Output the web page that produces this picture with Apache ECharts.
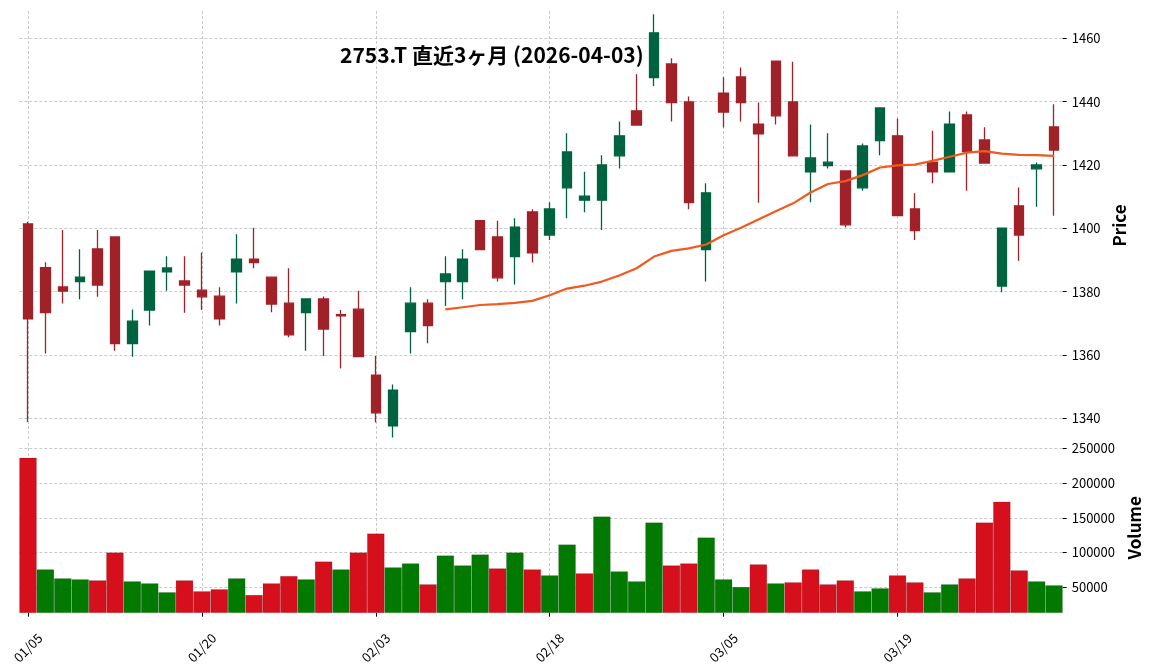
<!DOCTYPE html>
<html><head><meta charset="utf-8">
<script src="https://cdn.jsdelivr.net/npm/echarts@6/dist/echarts.min.js"></script>
<style>html,body{margin:0;padding:0;background:#fff}#c{width:1152px;height:670px}</style>
</head><body><div id="c"></div>
<script>
const dates = ['01/05','01/06','01/07','01/08','01/09','01/13','01/14','01/15','01/16','01/19',
  '01/20','01/21','01/22','01/23','01/26','01/27','01/28','01/29','01/30','02/02',
  '02/03','02/04','02/05','02/06','02/09','02/10','02/12','02/13','02/16','02/17',
  '02/18','02/19','02/20','02/24','02/25','02/26','02/27','03/02','03/03','03/04',
  '03/05','03/06','03/09','03/10','03/11','03/12','03/13','03/16','03/17','03/18',
  '03/19','03/23','03/24','03/25','03/26','03/27','03/30','03/31','04/01','04/02'];
const opens = [1401.4,1387.6,1381.5,1383.2,1393.5,1397.3,1363.6,1374.2,1386.3,1383.4,
  1380.5,1378.6,1386.3,1390.3,1384.6,1376.4,1373.4,1377.7,1372.8,1374.5,
  1353.7,1337.7,1367.4,1376.4,1383.2,1383.2,1402.4,1397.3,1391.1,1405.2,
  1397.9,1412.8,1408.9,1408.9,1422.9,1437.1,1447.6,1451.9,1439.9,1393.3,
  1442.7,1447.8,1432.9,1452.8,1439.9,1417.8,1419.8,1418.1,1412.8,1427.7,
  1429.2,1406.1,1420.9,1417.8,1435.8,1427.9,1381.8,1407.1,1418.8,1432.0];
const closes = [1371.4,1373.4,1380.2,1384.6,1382.1,1363.6,1370.7,1386.5,1387.5,1382.1,
  1378.4,1371.4,1390.3,1389.2,1376.1,1366.4,1377.7,1368.2,1372.4,1359.5,
  1341.8,1348.9,1376.4,1369.3,1385.6,1390.3,1393.3,1384.4,1400.4,1392.3,
  1406.1,1424.1,1410.2,1420.0,1429.2,1432.6,1461.7,1439.7,1408.1,1411.2,
  1436.7,1439.7,1429.8,1435.5,1422.9,1422.2,1420.9,1401.1,1426.0,1438.0,
  1404.0,1399.3,1417.8,1432.9,1424.2,1420.6,1400.1,1397.9,1420.0,1424.7];
const lows = [1338.9,1360.5,1376.3,1377.6,1378.4,1361.4,1359.5,1369.3,1380.3,1373.4,
  1374.2,1369.3,1376.3,1387.4,1373.5,1365.6,1361.4,1359.7,1355.8,1359.5,
  1338.7,1334.0,1360.5,1363.7,1375.5,1377.6,1393.3,1383.2,1382.3,1389.2,
  1396.3,1403.2,1405.1,1399.5,1418.9,1432.6,1444.9,1433.7,1406.0,1383.2,
  1431.8,1433.7,1408.1,1432.8,1422.9,1408.2,1418.9,1400.3,1411.9,1423.1,
  1404.0,1396.3,1414.2,1417.8,1411.9,1420.6,1379.8,1389.8,1406.8,1404.0];
const highs = [1402.1,1389.3,1399.5,1393.4,1399.5,1397.3,1374.4,1386.5,1391.2,1391.2,
  1392.4,1381.4,1398.1,1400.2,1384.6,1387.4,1377.7,1378.5,1374.2,1380.3,
  1359.7,1350.7,1381.4,1377.6,1391.2,1393.4,1402.4,1402.4,1403.2,1406.0,
  1408.2,1430.0,1417.9,1423.1,1433.7,1448.6,1467.6,1453.7,1441.6,1414.2,
  1447.7,1450.8,1439.7,1452.8,1452.6,1432.8,1430.0,1418.1,1426.8,1438.0,
  1434.7,1411.1,1430.8,1436.9,1436.9,1431.9,1400.1,1412.9,1420.8,1439.2];
const volumes = [236200,75800,62900,61500,60000,100100,58600,55700,42900,60000,
  44300,47200,62900,39000,55700,66200,61500,87200,75800,100100,
  127300,78700,84400,54300,95800,81500,97300,77200,100100,75800,
  67200,111600,70100,151700,72900,58600,143100,81500,84400,121600,
  61500,50500,83000,55700,57200,75800,54300,60000,44300,48600,
  67200,57200,42900,54300,62900,143100,173200,74400,58600,52900];
const ma25 = [null,null,null,null,null,null,null,null,null,null,
  null,null,null,null,null,null,null,null,null,null,
  null,null,null,null,1374.4,1375.1,1375.8,1376.1,1376.5,1377.1,
  1378.9,1381.0,1381.9,1383.2,1385.1,1387.4,1391.1,1392.9,1393.7,1394.9,
  1397.8,1400.2,1402.8,1405.4,1407.9,1411.3,1414.0,1414.9,1416.8,1419.2,
  1419.9,1420.1,1421.3,1422.6,1423.9,1424.4,1423.6,1423.2,1423.1,1422.9];
const priceTicks = [1340,1360,1380,1400,1420,1440,1460];
const volumeTicks = [50000,100000,150000,200000,250000];

const FONT = "'Noto Sans CJK JP','Noto Sans',sans-serif";
const UP = '#006340', DOWN = '#A02128';
const VUP = '#027a02', VDOWN = '#d50f1b';
const gridLine = {color:'#bdbdbd', width:0.8, type:[3,2]};
const L = 19.3, R = 1152 - 1062.7;

const candleData = opens.map((o,i)=>[o, closes[i], lows[i], highs[i]]);
const volData = volumes.map((v,i)=>{
  const down = i === 0 ? closes[0] < opens[0] : closes[i] < closes[i-1];
  return {value:v, itemStyle:{color: down ? VDOWN : VUP}};
});

function vGridAxis(gi){
  return {type:'value', gridIndex:gi, position:'top', min:-0.5, max:59.5, minInterval:10, maxInterval:10,
    axisLine:{show:false, onZero:false}, axisTick:{show:false}, axisLabel:{show:false},
    splitLine:{show:true, showMinLine:false, showMaxLine:false, lineStyle:gridLine}};
}
const plain = v => String(Math.round(v));

const chart = echarts.init(document.getElementById('c'), null, {renderer:'canvas'});
chart.setOption({
  animation:false,
  backgroundColor:'#ffffff',
  title:{text:'2753.T 直近3ヶ月 (2026-04-03)', left:340, top:45, padding:0,
    textStyle:{fontFamily:FONT, fontSize:21, fontWeight:'bold', color:'#000'}},
  grid:[
    {left:L, right:R, top:11, height:429},
    {left:L, right:R, top:443, height:169.7}
  ],
  xAxis:[
    {type:'category', gridIndex:0, data:dates, position:'bottom',
      axisLine:{show:false, onZero:false}, axisTick:{show:false}, axisLabel:{show:false}, splitLine:{show:false}},
    {type:'category', gridIndex:1, data:dates, position:'bottom',
      axisLine:{show:false, onZero:false},
      axisTick:{show:true, interval:9, alignWithLabel:true, length:4, lineStyle:{color:'#000', width:1}},
      axisLabel:{interval:9, rotate:45, align:'center', verticalAlign:'middle', margin:35,
        fontSize:13, color:'#000', fontFamily:FONT},
      splitLine:{show:false}},
    vGridAxis(0),
    vGridAxis(1)
  ],
  yAxis:[
    {type:'value', gridIndex:0, position:'right', min:1333.2, max:1468.6, minInterval:20, maxInterval:20,
      name:'Price', nameLocation:'middle', nameRotate:90, nameGap:36,
      nameTextStyle:{fontFamily:FONT, fontSize:17, fontWeight:'bold', color:'#000'},
      axisLine:{show:false, onZero:false},
      axisTick:{show:true, length:4, lineStyle:{color:'#000', width:1}},
      axisLabel:{showMinLabel:false, showMaxLabel:false, formatter:plain, margin:9, fontSize:13, color:'#000', fontFamily:FONT},
      splitLine:{show:true, showMinLine:false, showMaxLine:false, lineStyle:gridLine}},
    {type:'value', gridIndex:1, position:'right', min:13450, max:257600, minInterval:50000, maxInterval:50000,
      name:'Volume', nameLocation:'middle', nameRotate:90, nameGap:55,
      nameTextStyle:{fontFamily:FONT, fontSize:17, fontWeight:'bold', color:'#000'},
      axisLine:{show:false, onZero:false},
      axisTick:{show:true, length:4, lineStyle:{color:'#000', width:1}},
      axisLabel:{showMinLabel:false, showMaxLabel:false, formatter:plain, margin:9, fontSize:13, color:'#000', fontFamily:FONT},
      splitLine:{show:true, showMinLine:false, showMaxLine:false, lineStyle:gridLine}}
  ],
  series:[
    {type:'candlestick', xAxisIndex:0, yAxisIndex:0, data:candleData, barWidth:10, clip:false,
      itemStyle:{color:UP, color0:DOWN, borderColor:UP, borderColor0:DOWN, borderColorDoji:DOWN, borderWidth:1.3}},
    {type:'line', xAxisIndex:0, yAxisIndex:0, data:ma25, symbol:'none', showSymbol:false, connectNulls:false,
      lineStyle:{color:'#f05a1e', width:2.2}, z:3},
    {type:'bar', xAxisIndex:1, yAxisIndex:1, data:volData, barWidth:'100%', barCategoryGap:0,
      itemStyle:{borderColor:'rgba(0,0,0,0.22)', borderWidth:0.5}}
  ]
});
</script></body></html>
